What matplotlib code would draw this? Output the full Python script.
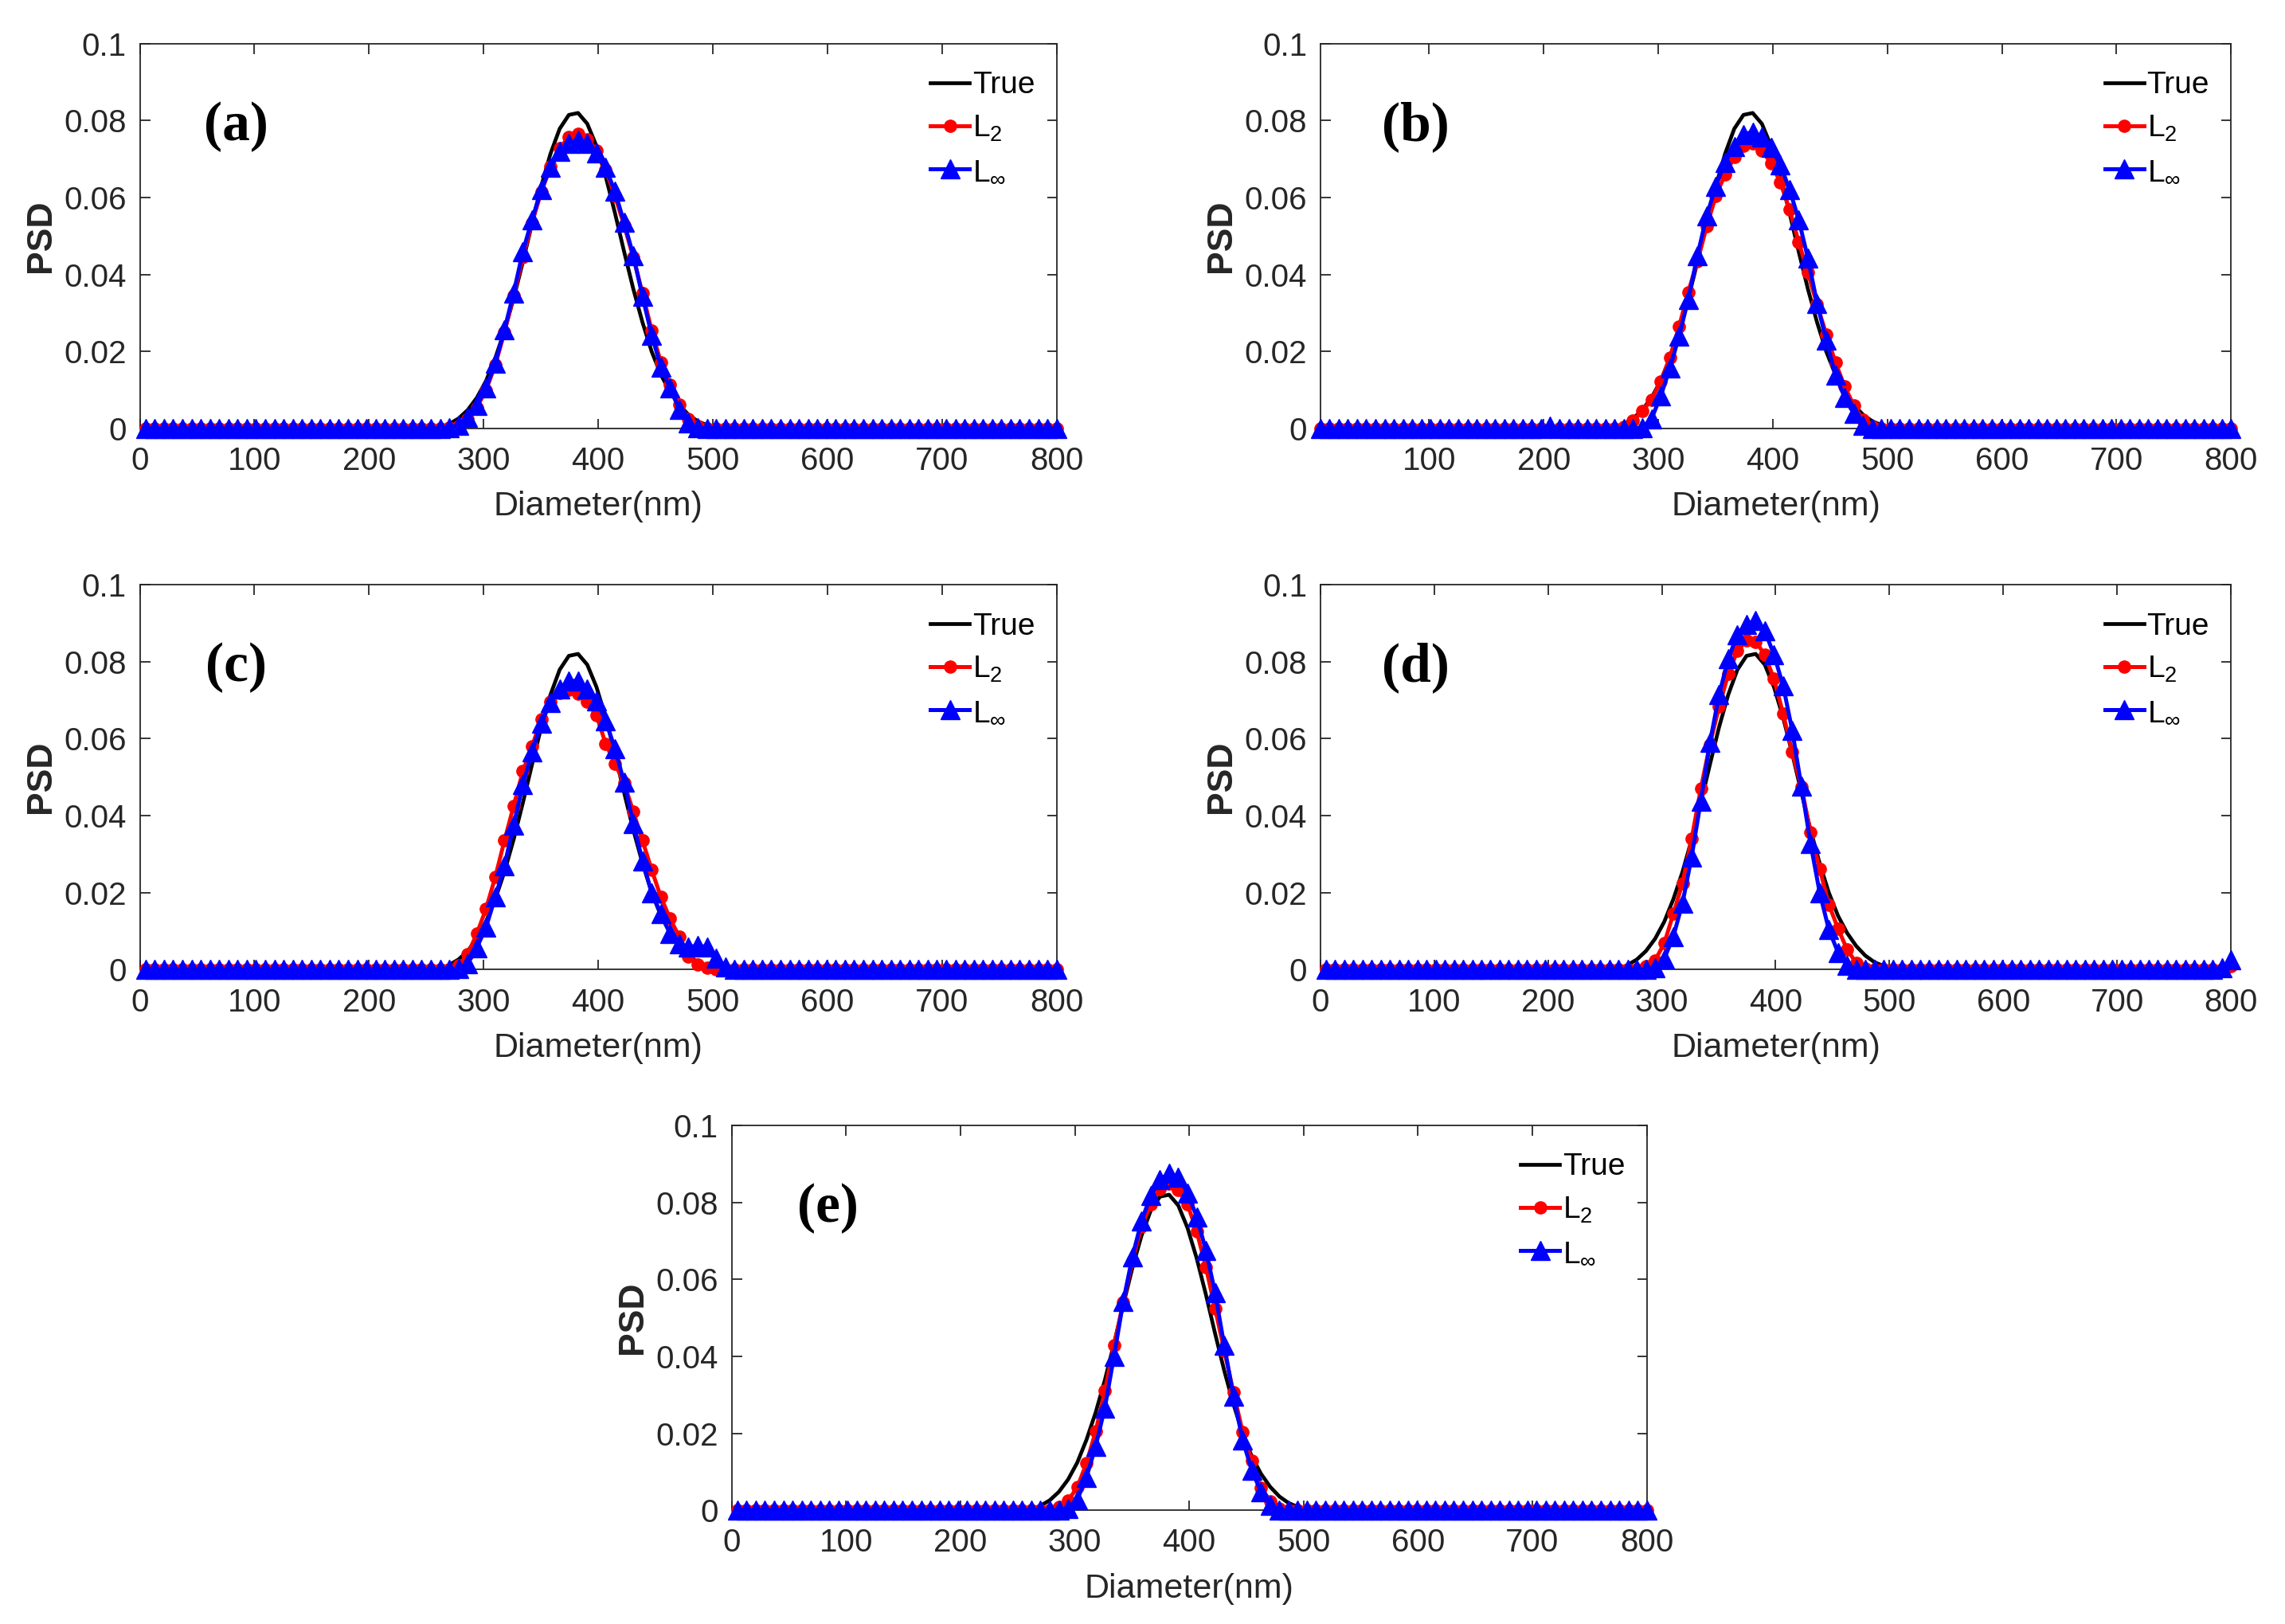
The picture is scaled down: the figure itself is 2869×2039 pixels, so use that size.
import numpy as np
import matplotlib.pyplot as plt

# ======== data: PSD on a 100-point diameter grid (5..800 nm) ========
diam = np.linspace(5, 800, 100)
k0 = 33  # index of the first value in every peak list (about 270 nm)

true_psd = [0.0012, 0.0026, 0.0048, 0.0080, 0.0124, 0.0183, 0.0254, 0.0338, 0.0433, 0.0533,
            0.0630, 0.0714, 0.0779, 0.0815, 0.0820, 0.0792, 0.0734, 0.0655, 0.0561, 0.0460,
            0.0363, 0.0276, 0.0200, 0.0140, 0.0095, 0.0061, 0.0036, 0.0019, 0.0009, 0.0003, 0.0001]

a_l2 = [0.0002, 0.0006, 0.0025, 0.0055, 0.0100, 0.0165, 0.0250, 0.0345, 0.0445, 0.0535,
        0.0615, 0.0680, 0.0728, 0.0758, 0.0765, 0.0752, 0.0722, 0.0672, 0.0605, 0.0528,
        0.0445, 0.0352, 0.0255, 0.0172, 0.0115, 0.0062, 0.0025, 0.0006, 0.0001]
a_linf = [0.0003, 0.0008, 0.0030, 0.0060, 0.0105, 0.0170, 0.0257, 0.0353, 0.0460, 0.0543,
          0.0620, 0.0678, 0.0720, 0.0740, 0.0750, 0.0740, 0.0716, 0.0678, 0.0616, 0.0536,
          0.0450, 0.0343, 0.0243, 0.0160, 0.0105, 0.0050, 0.0015, 0.0003]

b_l2 = [0.0005, 0.0020, 0.0045, 0.0075, 0.0122, 0.0185, 0.0265, 0.0355, 0.0435, 0.0525,
        0.0605, 0.0660, 0.0705, 0.0735, 0.0742, 0.0722, 0.0690, 0.0640, 0.0570, 0.0485,
        0.0405, 0.0322, 0.0245, 0.0172, 0.0109, 0.0060, 0.0022, 0.0005]
b_linf = [0.0000, 0.0000, 0.0003, 0.0025, 0.0084, 0.0157, 0.0240, 0.0336, 0.0450, 0.0553,
          0.0630, 0.0692, 0.0733, 0.0764, 0.0771, 0.0758, 0.0730, 0.0685, 0.0622, 0.0543,
          0.0443, 0.0326, 0.0229, 0.0139, 0.0081, 0.0039, 0.0008]

c_l2 = [0.0000, 0.0010, 0.0040, 0.0093, 0.0158, 0.0240, 0.0335, 0.0425, 0.0515, 0.0580,
        0.0650, 0.0695, 0.0718, 0.0726, 0.0716, 0.0695, 0.0660, 0.0587, 0.0535, 0.0485,
        0.0410, 0.0335, 0.0259, 0.0188, 0.0132, 0.0085, 0.0033, 0.0012, 0.0005]
c_linf = [0.0000, 0.0002, 0.0015, 0.0057, 0.0110, 0.0188, 0.0270, 0.0376, 0.0480, 0.0566,
          0.0640, 0.0694, 0.0728, 0.0750, 0.0750, 0.0729, 0.0698, 0.0647, 0.0574, 0.0487,
          0.0380, 0.0283, 0.0200, 0.0145, 0.0093, 0.0066, 0.0059, 0.0062, 0.0059, 0.0030, 0.0007]

d_l2 = [0.0000, 0.0000, 0.0008, 0.0024, 0.0068, 0.0145, 0.0225, 0.0340, 0.0470, 0.0585,
        0.0683, 0.0768, 0.0828, 0.0855, 0.0852, 0.0818, 0.0755, 0.0665, 0.0565, 0.0475,
        0.0356, 0.0262, 0.0169, 0.0107, 0.0052, 0.0017, 0.0003]
d_linf = [0.0000, 0.0000, 0.0000, 0.0005, 0.0028, 0.0086, 0.0173, 0.0293, 0.0438, 0.0590,
          0.0714, 0.0807, 0.0870, 0.0897, 0.0907, 0.0880, 0.0818, 0.0738, 0.0621, 0.0476,
          0.0328, 0.0200, 0.0104, 0.0045, 0.0010]

e_l2 = [0.0000, 0.0000, 0.0008, 0.0025, 0.0060, 0.0122, 0.0205, 0.0310, 0.0428, 0.0540,
        0.0648, 0.0738, 0.0795, 0.0835, 0.0848, 0.0832, 0.0795, 0.0725, 0.0632, 0.0525,
        0.0415, 0.0307, 0.0204, 0.0128, 0.0059, 0.0024, 0.0005]
e_linf = [0.0000, 0.0000, 0.0000, 0.0005, 0.0028, 0.0086, 0.0166, 0.0266, 0.0400, 0.0542,
          0.0659, 0.0752, 0.0818, 0.0859, 0.0876, 0.0866, 0.0825, 0.0763, 0.0676, 0.0566,
          0.0428, 0.0297, 0.0183, 0.0104, 0.0048, 0.0014]

# small deviations away from the peak: {grid index: value}
b_l2_extra = {25: -0.0004}
b_linf_extra = {25: 0.0007}
d_l2_extra = {99: 0.0008}
d_linf_extra = {98: 0.0004, 99: 0.0026}

panel_names = ['(a)', '(b)', '(c)', '(d)', '(e)']
yticks = [0, 0.02, 0.04, 0.06, 0.08, 0.1]
ytick_labels = ['0', '0.02', '0.04', '0.06', '0.08', '0.1']


def full(vals, extra=None):
    out = np.zeros(len(diam))
    out[k0:k0 + len(vals)] = vals
    if extra:
        for i, v in extra.items():
            out[i] = v
    return out


panels = [
    (full(a_l2), full(a_linf), (0, 800), list(range(0, 801, 100))),
    (full(b_l2, b_l2_extra), full(b_linf, b_linf_extra), (5, 800), list(range(100, 801, 100))),
    (full(c_l2), full(c_linf), (0, 800), list(range(0, 801, 100))),
    (full(d_l2, d_l2_extra), full(d_linf, d_linf_extra), (0, 800), list(range(0, 801, 100))),
    (full(e_l2), full(e_linf), (0, 800), list(range(0, 801, 100))),
]

# positions in figure fraction [left, bottom, width, height]
positions = [
    [0.0612, 0.7361, 0.4012, 0.2370],
    [0.5778, 0.7361, 0.3986, 0.2370],
    [0.0612, 0.4030, 0.4012, 0.2370],
    [0.5778, 0.4030, 0.3986, 0.2370],
    [0.3202, 0.0700, 0.4005, 0.2370],
]

plt.rcParams['font.family'] = ['Liberation Sans', 'DejaVu Sans']
plt.rcParams['mathtext.fontset'] = 'custom'
plt.rcParams['mathtext.rm'] = 'Liberation Sans'
plt.rcParams['mathtext.it'] = 'Liberation Sans'

fig = plt.figure(figsize=(28.69, 20.39), dpi=100)
true_full = full(true_psd)
edge = '#262626'

for name, (l2, linf, xlim, xt), pos in zip(panel_names, panels, positions):
    ax = fig.add_axes(pos)
    ax.plot(diam, true_full, color='k', lw=3.4, label='True', zorder=3)
    ax.plot(diam, l2, color='r', lw=3.6, marker='o', ms=11, label=r'$\mathregular{L_2}$',
            zorder=4, clip_on=False)
    ax.plot(diam, linf, color='b', lw=3.6, marker='^', ms=17, label=r'$\mathregular{L_\infty}$',
            zorder=5, clip_on=False)
    ax.set_xlim(*xlim)
    ax.set_ylim(0, 0.1)
    ax.set_xticks(xt)
    ax.set_yticks(yticks)
    ax.set_yticklabels(ytick_labels)
    ax.tick_params(direction='in', length=9, width=1.3, top=True, right=True,
                   labelsize=29, colors=edge, pad=12)
    ax.tick_params(axis='x', pad=16)
    for s in ax.spines.values():
        s.set_color(edge)
        s.set_linewidth(1.3)
    ax.set_xlabel('Diameter(nm)', fontsize=31, color=edge, labelpad=13)
    ax.set_ylabel('PSD', fontsize=32, color=edge, fontweight='bold', labelpad=6)
    ax.text(0.105, 0.785, name, transform=ax.transAxes, ha='center', va='center',
            fontsize=50, fontweight='bold', family='Liberation Serif')
    ax.legend(loc='upper right', frameon=False, fontsize=28, handlelength=1.25,
              handletextpad=0.1, labelspacing=0.45, borderaxespad=0.3,
              bbox_to_anchor=(1.0, 0.985))

fig.savefig('out.png', dpi=100)
